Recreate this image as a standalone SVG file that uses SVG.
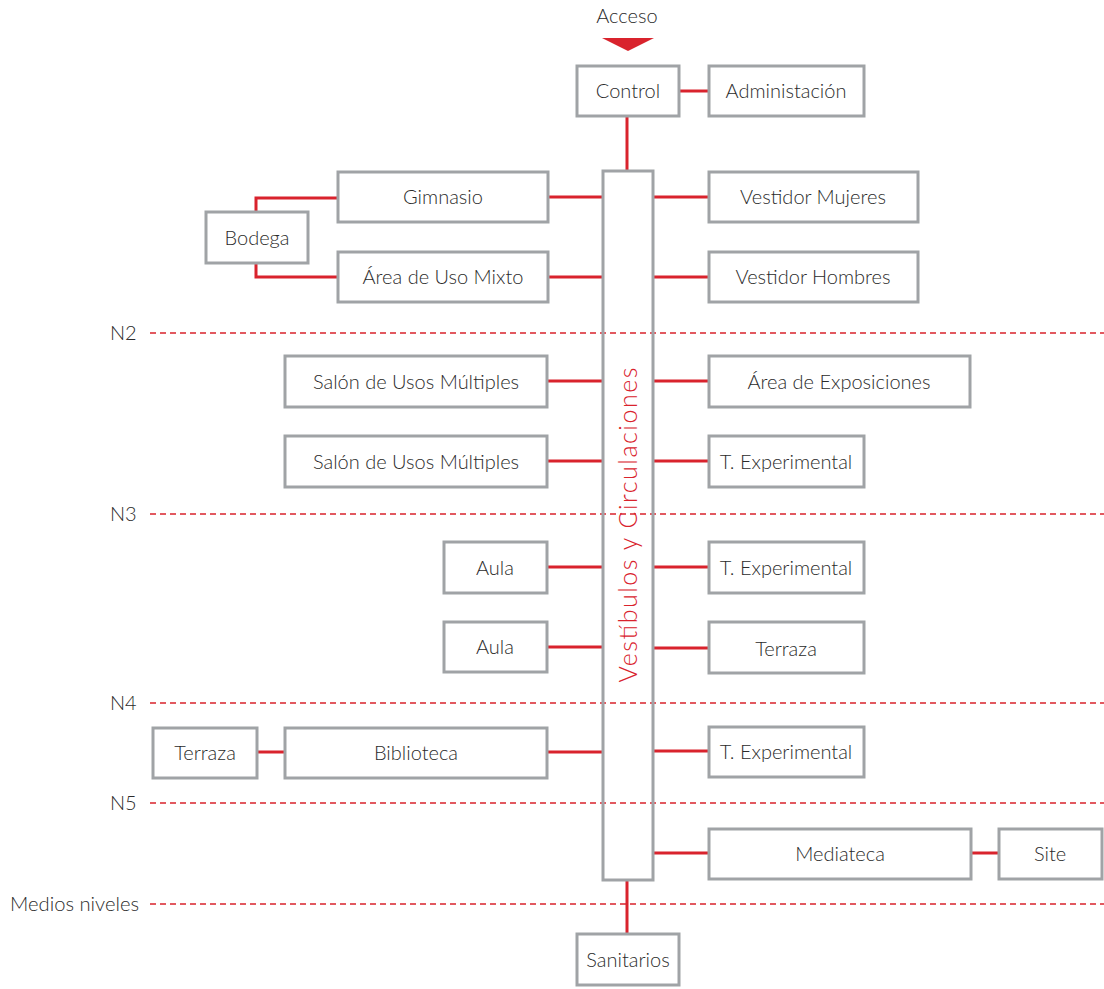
<svg xmlns="http://www.w3.org/2000/svg" width="1104" height="989" viewBox="0 0 1104 989">
<style>
.box{fill:#fff;stroke:#a0a3a6;stroke-width:3}
.t{font-family:Lato,"Open Sans","Liberation Sans",sans-serif;font-weight:300;font-size:20px;fill:#2b2b2b;text-anchor:middle}
.lbl{font-family:Lato,"Open Sans","Liberation Sans",sans-serif;font-weight:300;font-size:20px;fill:#2b2b2b}
.c{stroke:#d9232d;stroke-width:3;fill:none}
.d{stroke:#d9232d;stroke-width:1.5;stroke-dasharray:6 4;fill:none}
</style>
<rect width="1104" height="989" fill="#fff"/>
<g id="levels">
<line class="d" x1="150" y1="333" x2="1104" y2="333"/>
<line class="d" x1="150" y1="514" x2="1104" y2="514"/>
<line class="d" x1="150" y1="703" x2="1104" y2="703"/>
<line class="d" x1="150" y1="803" x2="1104" y2="803"/>
<line class="d" x1="150" y1="904" x2="1104" y2="904"/>
<text class="lbl" x="110" y="340">N2</text>
<text class="lbl" x="110" y="521">N3</text>
<text class="lbl" x="110" y="710">N4</text>
<text class="lbl" x="110" y="810">N5</text>
<text class="lbl" x="10" y="911" textLength="129" lengthAdjust="spacingAndGlyphs">Medios niveles</text>
</g>
<g id="connectors">
<line class="c" x1="679" y1="91" x2="709" y2="91"/>
<line class="c" x1="627" y1="117" x2="627" y2="171"/>
<line class="c" x1="627" y1="880" x2="627" y2="934"/>
<polyline class="c" points="256,212 256,198 338,198"/>
<polyline class="c" points="256,263 256,277 338,277"/>
<line class="c" x1="548" y1="197" x2="602" y2="197"/>
<line class="c" x1="548" y1="277" x2="602" y2="277"/>
<line class="c" x1="548" y1="381" x2="602" y2="381"/>
<line class="c" x1="548" y1="461" x2="602" y2="461"/>
<line class="c" x1="548" y1="567" x2="602" y2="567"/>
<line class="c" x1="548" y1="647" x2="602" y2="647"/>
<line class="c" x1="548" y1="752" x2="602" y2="752"/>
<line class="c" x1="257" y1="752" x2="285" y2="752"/>
<line class="c" x1="653" y1="197" x2="709" y2="197"/>
<line class="c" x1="653" y1="277" x2="709" y2="277"/>
<line class="c" x1="653" y1="381" x2="709" y2="381"/>
<line class="c" x1="653" y1="461" x2="709" y2="461"/>
<line class="c" x1="653" y1="567" x2="709" y2="567"/>
<line class="c" x1="653" y1="648" x2="709" y2="648"/>
<line class="c" x1="653" y1="751" x2="709" y2="751"/>
<line class="c" x1="653" y1="853" x2="709" y2="853"/>
<line class="c" x1="971" y1="853" x2="999" y2="853"/>
</g>
<g id="acceso">
<text class="t" x="627" y="23">Acceso</text>
<polygon points="602,38 654,38 628,51" fill="#d9232d"/>
</g>
<g id="vestibulos">
<rect x="603" y="171" width="50" height="709" fill="none" stroke="#a0a3a6" stroke-width="3"/>
<text x="0" y="0" transform="translate(637,525) rotate(-90)" font-family="Lato,'Open Sans','Liberation Sans',sans-serif" font-weight="300" font-size="25" fill="#d9232d" text-anchor="middle" textLength="315" lengthAdjust="spacing">Vestíbulos y Circulaciones</text>
</g>
<g id="control"><rect class="box" x="577" y="66" width="102" height="50"/><text class="t" x="628" y="98">Control</text></g>
<g id="administacion"><rect class="box" x="709" y="66" width="155" height="50"/><text class="t" x="786" y="98">Administación</text></g>
<g id="gimnasio"><rect class="box" x="338" y="172" width="210" height="50"/><text class="t" x="443" y="204">Gimnasio</text></g>
<g id="area-uso-mixto"><rect class="box" x="338" y="252" width="210" height="50"/><text class="t" x="443" y="284">Área de Uso Mixto</text></g>
<g id="bodega"><rect class="box" x="206" y="212" width="102" height="51"/><text class="t" x="257" y="245">Bodega</text></g>
<g id="vestidor-mujeres"><rect class="box" x="709" y="172" width="209" height="50"/><text class="t" x="813" y="204">Vestidor Mujeres</text></g>
<g id="vestidor-hombres"><rect class="box" x="709" y="252" width="209" height="50"/><text class="t" x="813" y="284">Vestidor Hombres</text></g>
<g id="salon1"><rect class="box" x="285" y="356" width="262" height="51"/><text class="t" x="416" y="389">Salón de Usos Múltiples</text></g>
<g id="salon2"><rect class="box" x="285" y="436" width="262" height="51"/><text class="t" x="416" y="469">Salón de Usos Múltiples</text></g>
<g id="area-exposiciones"><rect class="box" x="709" y="356" width="261" height="51"/><text class="t" x="839" y="389">Área de Exposiciones</text></g>
<g id="t-exp1"><rect class="box" x="709" y="436" width="155" height="51"/><text class="t" x="786" y="469">T. Experimental</text></g>
<g id="aula1"><rect class="box" x="444" y="542" width="103" height="51"/><text class="t" x="495" y="575">Aula</text></g>
<g id="aula2"><rect class="box" x="444" y="622" width="103" height="50"/><text class="t" x="495" y="654">Aula</text></g>
<g id="t-exp2"><rect class="box" x="709" y="542" width="155" height="51"/><text class="t" x="786" y="575">T. Experimental</text></g>
<g id="terraza-r"><rect class="box" x="709" y="622" width="155" height="51"/><text class="t" x="786" y="656">Terraza</text></g>
<g id="terraza-l"><rect class="box" x="153" y="728" width="104" height="50"/><text class="t" x="205" y="760">Terraza</text></g>
<g id="biblioteca"><rect class="box" x="285" y="728" width="262" height="50"/><text class="t" x="416" y="760">Biblioteca</text></g>
<g id="t-exp3"><rect class="box" x="709" y="727" width="155" height="50"/><text class="t" x="786" y="759">T. Experimental</text></g>
<g id="mediateca"><rect class="box" x="709" y="829" width="262" height="50"/><text class="t" x="840" y="861">Mediateca</text></g>
<g id="site"><rect class="box" x="999" y="829" width="103" height="50"/><text class="t" x="1050" y="861">Site</text></g>
<g id="sanitarios"><rect class="box" x="577" y="934" width="102" height="51"/><text class="t" x="628" y="967">Sanitarios</text></g>
</svg>
